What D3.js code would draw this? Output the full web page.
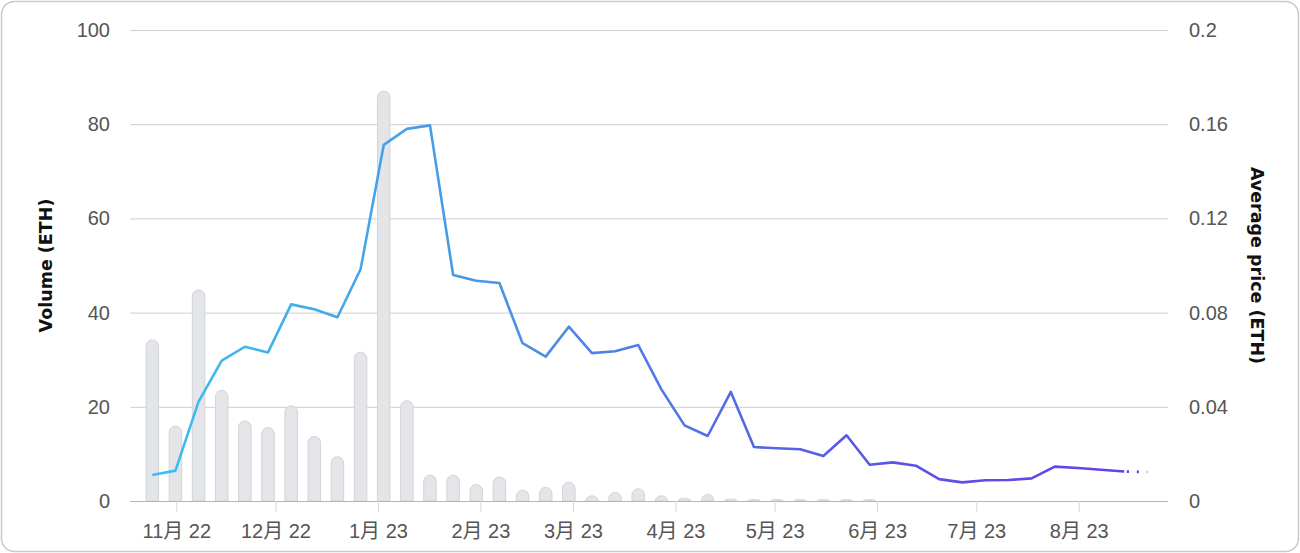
<!DOCTYPE html>
<html>
<head>
<meta charset="utf-8">
<script src="https://cdn.jsdelivr.net/npm/d3@7"></script>
<style>
  html, body { margin: 0; padding: 0; background: #fff; }
  svg { display: block; }
</style>
</head>
<body>
<svg id="chart" width="1300" height="553"></svg>
<script>
// ---- data ----
const weeks = ["2022-10-24","2022-10-31","2022-11-07","2022-11-14","2022-11-21","2022-11-28",
  "2022-12-05","2022-12-12","2022-12-19","2022-12-26","2023-01-02","2023-01-09","2023-01-16",
  "2023-01-23","2023-01-30","2023-02-06","2023-02-13","2023-02-20","2023-02-27","2023-03-06",
  "2023-03-13","2023-03-20","2023-03-27","2023-04-03","2023-04-10","2023-04-17","2023-04-24",
  "2023-05-01","2023-05-08","2023-05-15","2023-05-22","2023-05-29","2023-06-05","2023-06-12",
  "2023-06-19","2023-06-26","2023-07-03","2023-07-10","2023-07-17","2023-07-24","2023-07-31",
  "2023-08-07","2023-08-14","2023-08-21"];
const volumeETH = [34.2, 15.9, 44.8, 23.5, 17.0, 15.6, 20.2, 13.7, 9.4, 31.6, 87.0, 21.3, 5.5,
  5.5, 3.5, 5.1, 2.3, 2.9, 4.0, 1.1, 1.8, 2.6, 1.1, 0.6, 1.4, 0.4, 0.3, 0, 0.3, 0.3, 0.3, 0.3,
  0, 0, 0.3, 0, 0, 0, 0, 0, 0, 0, 0, 0];
const avgPriceETH = [0.0110, 0.0129, 0.0422, 0.0596, 0.0655, 0.0631, 0.0835, 0.0814, 0.0780,
  0.0984, 0.1512, 0.1580, 0.1595, 0.0960, 0.0935, 0.0926, 0.0670, 0.0613, 0.0740, 0.0628,
  0.0636, 0.0662, 0.0474, 0.0321, 0.0276, 0.0463, 0.0229, 0.0224, 0.0220, 0.0191, 0.0279,
  0.0154, 0.0164, 0.0150, 0.0093, 0.0079, 0.0088, 0.0089, 0.0096, 0.0146, 0.0140, 0.0133,
  0.0125, 0.0123];
const volumeTicks = [0, 20, 40, 60, 80, 100];
const priceTicks = [0, 0.04, 0.08, 0.12, 0.16, 0.2];
const xDomain = ["2022-10-18", "2023-08-28"];
const leftTitle = "Volume (ETH)";
const rightTitle = "Average price (ETH)";

// ---- setup ----
const W = 1300, H = 553;
const m = { left: 130, right: 132, top: 30, bottom: 52 };
const parse = d3.utcParse("%Y-%m-%d");
// weekly points sit slightly into their week (timestamp of the week bucket)
const dates = weeks.map(s => d3.utcHour.offset(parse(s), 18));
const svg = d3.select("#chart");
const FONT = "'Liberation Sans', 'Noto Sans CJK JP', sans-serif";
const TFONT = "'DejaVu Sans', sans-serif";

svg.append("rect")
  .attr("x", 1.5).attr("y", 1.5).attr("width", W - 3).attr("height", H - 3)
  .attr("rx", 13).attr("fill", "#fff").attr("stroke", "#c9c9c9").attr("stroke-width", 1.5);

const x = d3.scaleUtc().domain(xDomain.map(parse)).range([m.left, W - m.right]);
const yV = d3.scaleLinear().domain([0, 100]).range([H - m.bottom, m.top]);
const yP = d3.scaleLinear().domain([0, 0.2]).range([H - m.bottom, m.top]);

// grid
svg.append("g").selectAll("line").data(volumeTicks.slice(1)).join("line")
  .attr("x1", m.left).attr("x2", W - m.right)
  .attr("y1", d => yV(d) + 0.5).attr("y2", d => yV(d) + 0.5)
  .attr("stroke", "#cfcfcf").attr("stroke-width", 1);

// left axis
const gL = svg.append("g").attr("transform", `translate(${m.left},0)`)
  .call(d3.axisLeft(yV).tickValues(volumeTicks).tickSize(0).tickPadding(20));
gL.select(".domain").remove();
gL.selectAll("text").attr("font-family", FONT).attr("font-size", 20).attr("fill", "#555");

// right axis
const gR = svg.append("g").attr("transform", `translate(${W - m.right},0)`)
  .call(d3.axisRight(yP).tickValues(priceTicks).tickSize(0).tickPadding(21)
    .tickFormat(d3.format("~g")));
gR.select(".domain").remove();
gR.selectAll("text").attr("font-family", FONT).attr("font-size", 20).attr("fill", "#555");

// bars
const bw = 12.5;
const barPath = (d, i) => {
  const cx = x(dates[i]);
  const y0 = yV(0), y1 = yV(d);
  const h = y0 - y1;
  const rx = bw / 2, ry = Math.min(bw / 2, h);
  return `M${cx - bw/2},${y0} L${cx - bw/2},${y1 + ry} A${rx},${ry} 0 0 1 ${cx + bw/2},${y1 + ry} L${cx + bw/2},${y0} Z`;
};
svg.append("g").selectAll("path").data(volumeETH).join("path")
  .filter(d => d > 0)
  .attr("d", barPath)
  .attr("fill", "#e3e5e8").attr("stroke", "#d2d4d7").attr("stroke-width", 1);

// x axis
const gX = svg.append("g").attr("transform", `translate(0,${H - m.bottom})`)
  .call(d3.axisBottom(x).ticks(d3.utcMonth.every(1)).tickSize(11).tickPadding(12)
    .tickFormat(d3.utcFormat("%-m月 %y")));
gX.select(".domain").attr("stroke", "#b5b5b5").attr("d", `M${m.left},0.5H${W - m.right}`);
gX.selectAll(".tick line").attr("stroke", "#d6d6d6");
gX.selectAll("text").attr("font-family", FONT).attr("font-size", 20).attr("fill", "#555");

// gradient line
const defs = svg.append("defs");
const grad = defs.append("linearGradient").attr("id", "lg")
  .attr("gradientUnits", "userSpaceOnUse")
  .attr("x1", x(dates[0])).attr("x2", x(dates[dates.length - 1])).attr("y1", 0).attr("y2", 0);
grad.append("stop").attr("offset", "0%").attr("stop-color", "#3cc0ec");
grad.append("stop").attr("offset", "35%").attr("stop-color", "#4a93e6");
grad.append("stop").attr("offset", "70%").attr("stop-color", "#5858e6");
grad.append("stop").attr("offset", "100%").attr("stop-color", "#6a3bec");

const pts = avgPriceETH.map((v, i) => [dates[i], v]);
const line = d3.line().x(d => x(d[0])).y(d => yP(d[1]));
const n = pts.length;
svg.append("path").datum(pts.slice(0, n - 1))
  .attr("d", line).attr("fill", "none").attr("stroke", "url(#lg)")
  .attr("stroke-width", 2.6).attr("stroke-linejoin", "round");
svg.append("path").datum(pts.slice(n - 2))
  .attr("d", line).attr("fill", "none").attr("stroke", "url(#lg)")
  .attr("stroke-width", 2.6).attr("stroke-dasharray", "2.2 7.8").attr("stroke-dashoffset", -2.6);

// titles
const cy = (yV(0) + yV(100)) / 2;
svg.append("text").text(leftTitle)
  .attr("transform", `translate(52,${cy}) rotate(-90)`)
  .attr("text-anchor", "middle").attr("font-family", TFONT)
  .attr("font-weight", "bold").attr("font-size", 17.5).attr("fill", "#111");
svg.append("text").text(rightTitle)
  .attr("transform", `translate(1251,${cy}) rotate(90)`)
  .attr("text-anchor", "middle").attr("font-family", TFONT)
  .attr("font-weight", "bold").attr("font-size", 17.5).attr("fill", "#111");
</script>
</body>
</html>
